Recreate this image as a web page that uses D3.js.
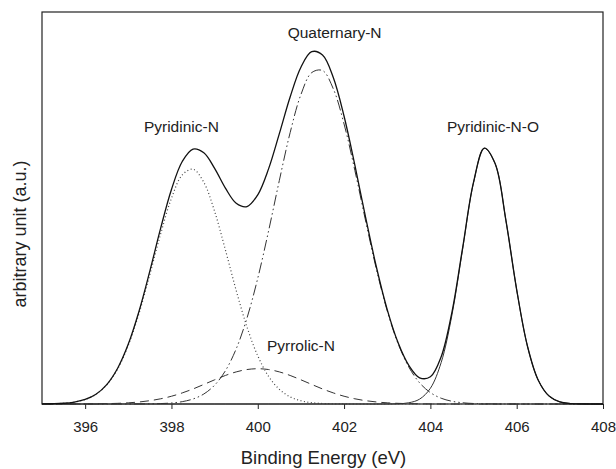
<!DOCTYPE html>
<html>
<head>
<meta charset="utf-8">
<script src="https://cdn.jsdelivr.net/npm/d3@7"></script>
<style>
  body { margin: 0; background: #fff; }
  text { font-family: Arial, "Liberation Sans", sans-serif; fill: #222; }
</style>
</head>
<body>
<div class="container"></div>
<script>
// binding energy grid (eV), step 0.25
var energy = d3.range(53).map(function(i){ return 395 + i * 0.25; });

// fitted components (a.u.)
var pyridinic = [0.02,0.07,0.19,0.49,1.14,2.45,4.87,8.90,14.97,23.18,33.06,43.41,52.49,58.43,59.90,56.54,49.13,39.31,28.97,19.65,12.28,7.06,3.74,1.82,0.82,0.34,0.13,0.05,0.01,0,0,0,0,0,0,0,0,0,0,0,0,0,0,0,0,0,0,0,0,0,0,0,0];
var pyrrolic = [0,0,0,0.01,0.02,0.04,0.09,0.17,0.30,0.52,0.85,1.33,1.98,2.83,3.84,4.99,6.17,7.28,8.19,8.79,9.00,8.79,8.19,7.28,6.17,4.99,3.84,2.83,1.98,1.33,0.85,0.52,0.30,0.17,0.09,0.04,0.02,0,0,0,0,0,0,0,0,0,0,0,0,0,0,0,0];
var quaternary = [0,0,0,0,0,0,0,0,0.01,0.02,0.04,0.11,0.26,0.60,1.28,2.55,4.80,8.48,14.06,21.92,32.09,44.13,57.03,69.22,78.93,84.54,85.07,80.42,71.42,59.58,46.69,34.37,23.77,15.44,9.43,5.40,2.91,1.47,0.70,0.31,0.13,0.05,0.02,0,0,0,0,0,0,0,0,0,0];
var pyridinicNO = [0,0,0,0,0,0,0,0,0,0,0,0,0,0,0,0,0,0,0,0,0,0,0,0,0,0,0,0,0,0,0,0,0.01,0.06,0.31,1.24,4.01,10.59,22.74,39.73,56.45,65.23,61.31,46.87,29.14,14.74,6.07,2.03,0.55,0.12,0.02,0,0];
var envelope = [0.02,0.07,0.19,0.50,1.16,2.49,4.96,9.07,15.28,23.72,33.95,44.85,54.73,61.86,65.02,64.08,60.10,55.07,51.22,50.36,53.37,59.98,68.96,78.32,85.92,89.87,89.04,83.30,73.41,60.91,47.54,34.89,24.08,15.67,9.83,6.68,6.94,12.06,23.44,40.04,56.58,65.28,61.33,46.87,29.14,14.74,6.07,2.03,0.55,0.12,0.02,0,0];

var xTicks = [396, 398, 400, 402, 404, 406, 408];

var labels = [
  {text: "Pyridinic-N", e: 398.23, v: 69.4},
  {text: "Quaternary-N", e: 401.78, v: 93.4},
  {text: "Pyridinic-N-O", e: 405.45, v: 69.4},
  {text: "Pyrrolic-N", e: 401.0, v: 13.5}
];

var width = 616, height = 469;
var margin = {left: 42, right: 13, top: 12, bottom: 65};

var svg = d3.select(".container").append('svg')
  .attr('width', width)
  .attr('height', height);

var x = d3.scaleLinear().domain([395, 408]).range([margin.left, width - margin.right]);
var y = d3.scaleLinear().domain([0, 100]).range([height - margin.bottom, margin.top]);

// frame
svg.append('rect')
  .attr('x', x(395)).attr('y', y(100))
  .attr('width', x(408) - x(395)).attr('height', y(0) - y(100))
  .attr('fill', 'none').attr('stroke', '#222').attr('stroke-width', 1.2);

var xAxis = svg.append('g')
  .attr('transform', 'translate(0,' + y(0) + ')')
  .call(d3.axisBottom(x).tickValues(xTicks).tickSize(5).tickPadding(12).tickFormat(d3.format('d')));
xAxis.select('.domain').remove();
xAxis.selectAll('line').attr('stroke', '#222');
xAxis.selectAll('text').style('font-size', '15px').attr('fill', '#222');

var line = function(vals){
  return d3.line()
    .x(function(d, i){ return x(energy[i]); })
    .y(function(d){ return y(d); })
    .curve(d3.curveCatmullRom)(vals);
};

var series = [
  {vals: pyridinic, dash: '1,2.5', w: 1.2, color: '#444'},
  {vals: pyrrolic, dash: '9,5', w: 1, color: '#333'},
  {vals: quaternary, dash: '11,3,1.5,3,1.5,3', w: 1, color: '#333'},
  {vals: pyridinicNO, dash: null, w: 1, color: '#333'},
  {vals: envelope, dash: null, w: 1.3, color: '#111'}
];

svg.selectAll('path.curve').data(series).enter()
  .append('path')
  .attr('class', 'curve')
  .attr('d', function(d){ return line(d.vals); })
  .attr('fill', 'none')
  .attr('stroke', function(d){ return d.color; })
  .attr('stroke-width', function(d){ return d.w; })
  .attr('stroke-dasharray', function(d){ return d.dash; });

svg.selectAll('text.lbl').data(labels).enter()
  .append('text')
  .attr('class', 'lbl')
  .attr('x', function(d){ return x(d.e); })
  .attr('y', function(d){ return y(d.v); })
  .attr('text-anchor', 'middle')
  .style('font-size', '15.5px')
  .text(function(d){ return d.text; });

svg.append('text')
  .attr('x', (x(395) + x(408)) / 2 + 1)
  .attr('y', 464)
  .attr('text-anchor', 'middle')
  .style('font-size', '18.5px')
  .text('Binding Energy (eV)');

svg.append('text')
  .attr('transform', 'translate(26,' + ((y(0) + y(100)) / 2 + 26) + ') rotate(-90)')
  .attr('text-anchor', 'middle')
  .style('font-size', '18px')
  .text('arbitrary unit (a.u.)');
</script>
</body>
</html>
